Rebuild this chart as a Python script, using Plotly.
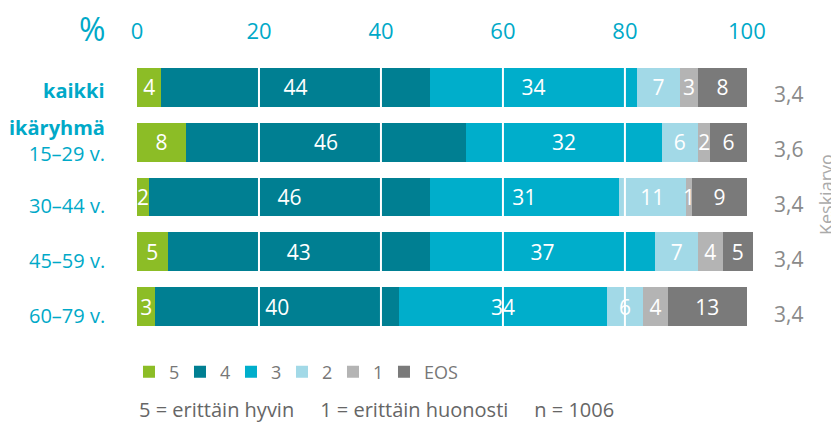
import plotly.graph_objects as go

categories = ["kaikki", "15–29 v.", "30–44 v.", "45–59 v.", "60–79 v."]
cat_labels = ["<b>kaikki</b>", "<b>ikäryhmä</b><br>15–29 v.", "30–44 v.", "45–59 v.", "60–79 v."]
series_names = ["5", "4", "3", "2", "1", "EOS"]
s5 = [4, 8, 2, 5, 3]
s4 = [44, 46, 46, 43, 40]
s3 = [34, 32, 31, 37, 34]
s2 = [7, 6, 11, 7, 6]
s1 = [3, 2, 1, 4, 4]
seos = [8, 6, 9, 5, 13]
means = ["3,4", "3,6", "3,4", "3,4", "3,4"]
x_ticks = [0, 20, 40, 60, 80, 100]
grid_vals = [20, 40, 60, 80]
GAP = "\u00a0" * 5
footnote = "5 = erittäin hyvin" + GAP + "1 = erittäin huonosti" + GAP + "n = 1006"

colors = ["#8cbd26", "#007f92", "#00aecb", "#a2d9e7", "#b4b4b4", "#7a7a7a"]
values = [s5, s4, s3, s2, s1, seos]
FONT = "Open Sans"
CYAN = "#00a9c8"

fig = go.Figure()
for name, vals, col in zip(series_names, values, colors):
    fig.add_trace(go.Bar(
        y=categories, x=vals, name=name, orientation="h",
        marker=dict(color=col, line=dict(width=0)),
        text=[str(v) for v in vals], textposition="inside",
        insidetextanchor="middle", constraintext="none",
        textfont=dict(color="white", size=21, family=FONT),
        legendwidth=(6 if name != "EOS" else None),
        hoverinfo="skip",
    ))

shapes = []
for g in grid_vals:
    shapes.append(dict(type="line", xref="x", yref="paper", x0=g, x1=g, y0=0, y1=1,
                       line=dict(color="white", width=2), layer="above"))

ann = []
shifts = [-3, 2, -8, -9, -9]
for c, lab, sh in zip(categories, cat_labels, shifts):
    ann.append(dict(x=0, xref="paper", y=c, yref="y", text=lab, showarrow=False,
                    xanchor="right", xshift=-30, yshift=sh, align="right",
                    font=dict(color=CYAN, size=20, family=FONT)))
for c, m in zip(categories, means):
    ann.append(dict(x=1, xref="paper", y=c, yref="y", text=m, showarrow=False,
                    xanchor="center", xshift=35, yshift=-7,
                    font=dict(color="#8a8a8a", size=21, family=FONT)))
ann.append(dict(x=1, xref="paper", y=0.507, yref="paper", text="Keskiarvo", showarrow=False,
                textangle=-90, xanchor="center", yanchor="middle", xshift=73,
                font=dict(color="#aaaaaa", size=18, family=FONT)))
ann.append(dict(x=0, xref="paper", y=1, yref="paper", text="%", showarrow=False,
                xanchor="center", yanchor="middle", xshift=-45, yshift=32,
                font=dict(color=CYAN, size=32, family=FONT)))
ann.append(dict(x=0, xref="paper", y=-0.274, yref="paper", text=footnote, showarrow=False,
                xanchor="left", yanchor="middle",
                font=dict(color="#666666", size=20, family=FONT)))

# page body has an 8px margin: figure is 8px smaller and offsets account for it
fig.update_layout(
    width=831, height=414,
    margin=dict(l=129, r=86, t=52, b=88, autoexpand=False),
    barmode="stack", bargap=0.29,
    plot_bgcolor="white", paper_bgcolor="white",
    font=dict(family=FONT),
    uniformtext=dict(minsize=21, mode="show"),
    xaxis=dict(range=[0, 101], side="top", tickvals=x_ticks, showgrid=False,
               zeroline=False, showline=False, ticks="", ticklabelstandoff=16,
               automargin=False,
               tickfont=dict(color=CYAN, size=22, family=FONT), fixedrange=True),
    yaxis=dict(categoryorder="array", categoryarray=categories, autorange="reversed",
               showticklabels=False, showgrid=False, zeroline=False, ticks="",
               automargin=False, fixedrange=True),
    legend=dict(orientation="h", x=-0.013, xanchor="left", y=-0.139, yanchor="middle",
                font=dict(color="#777777", size=18, family=FONT),
                traceorder="normal", itemclick=False, bgcolor="rgba(0,0,0,0)"),
    shapes=shapes, annotations=ann, showlegend=True,
)

fig.write_html("out.html")
